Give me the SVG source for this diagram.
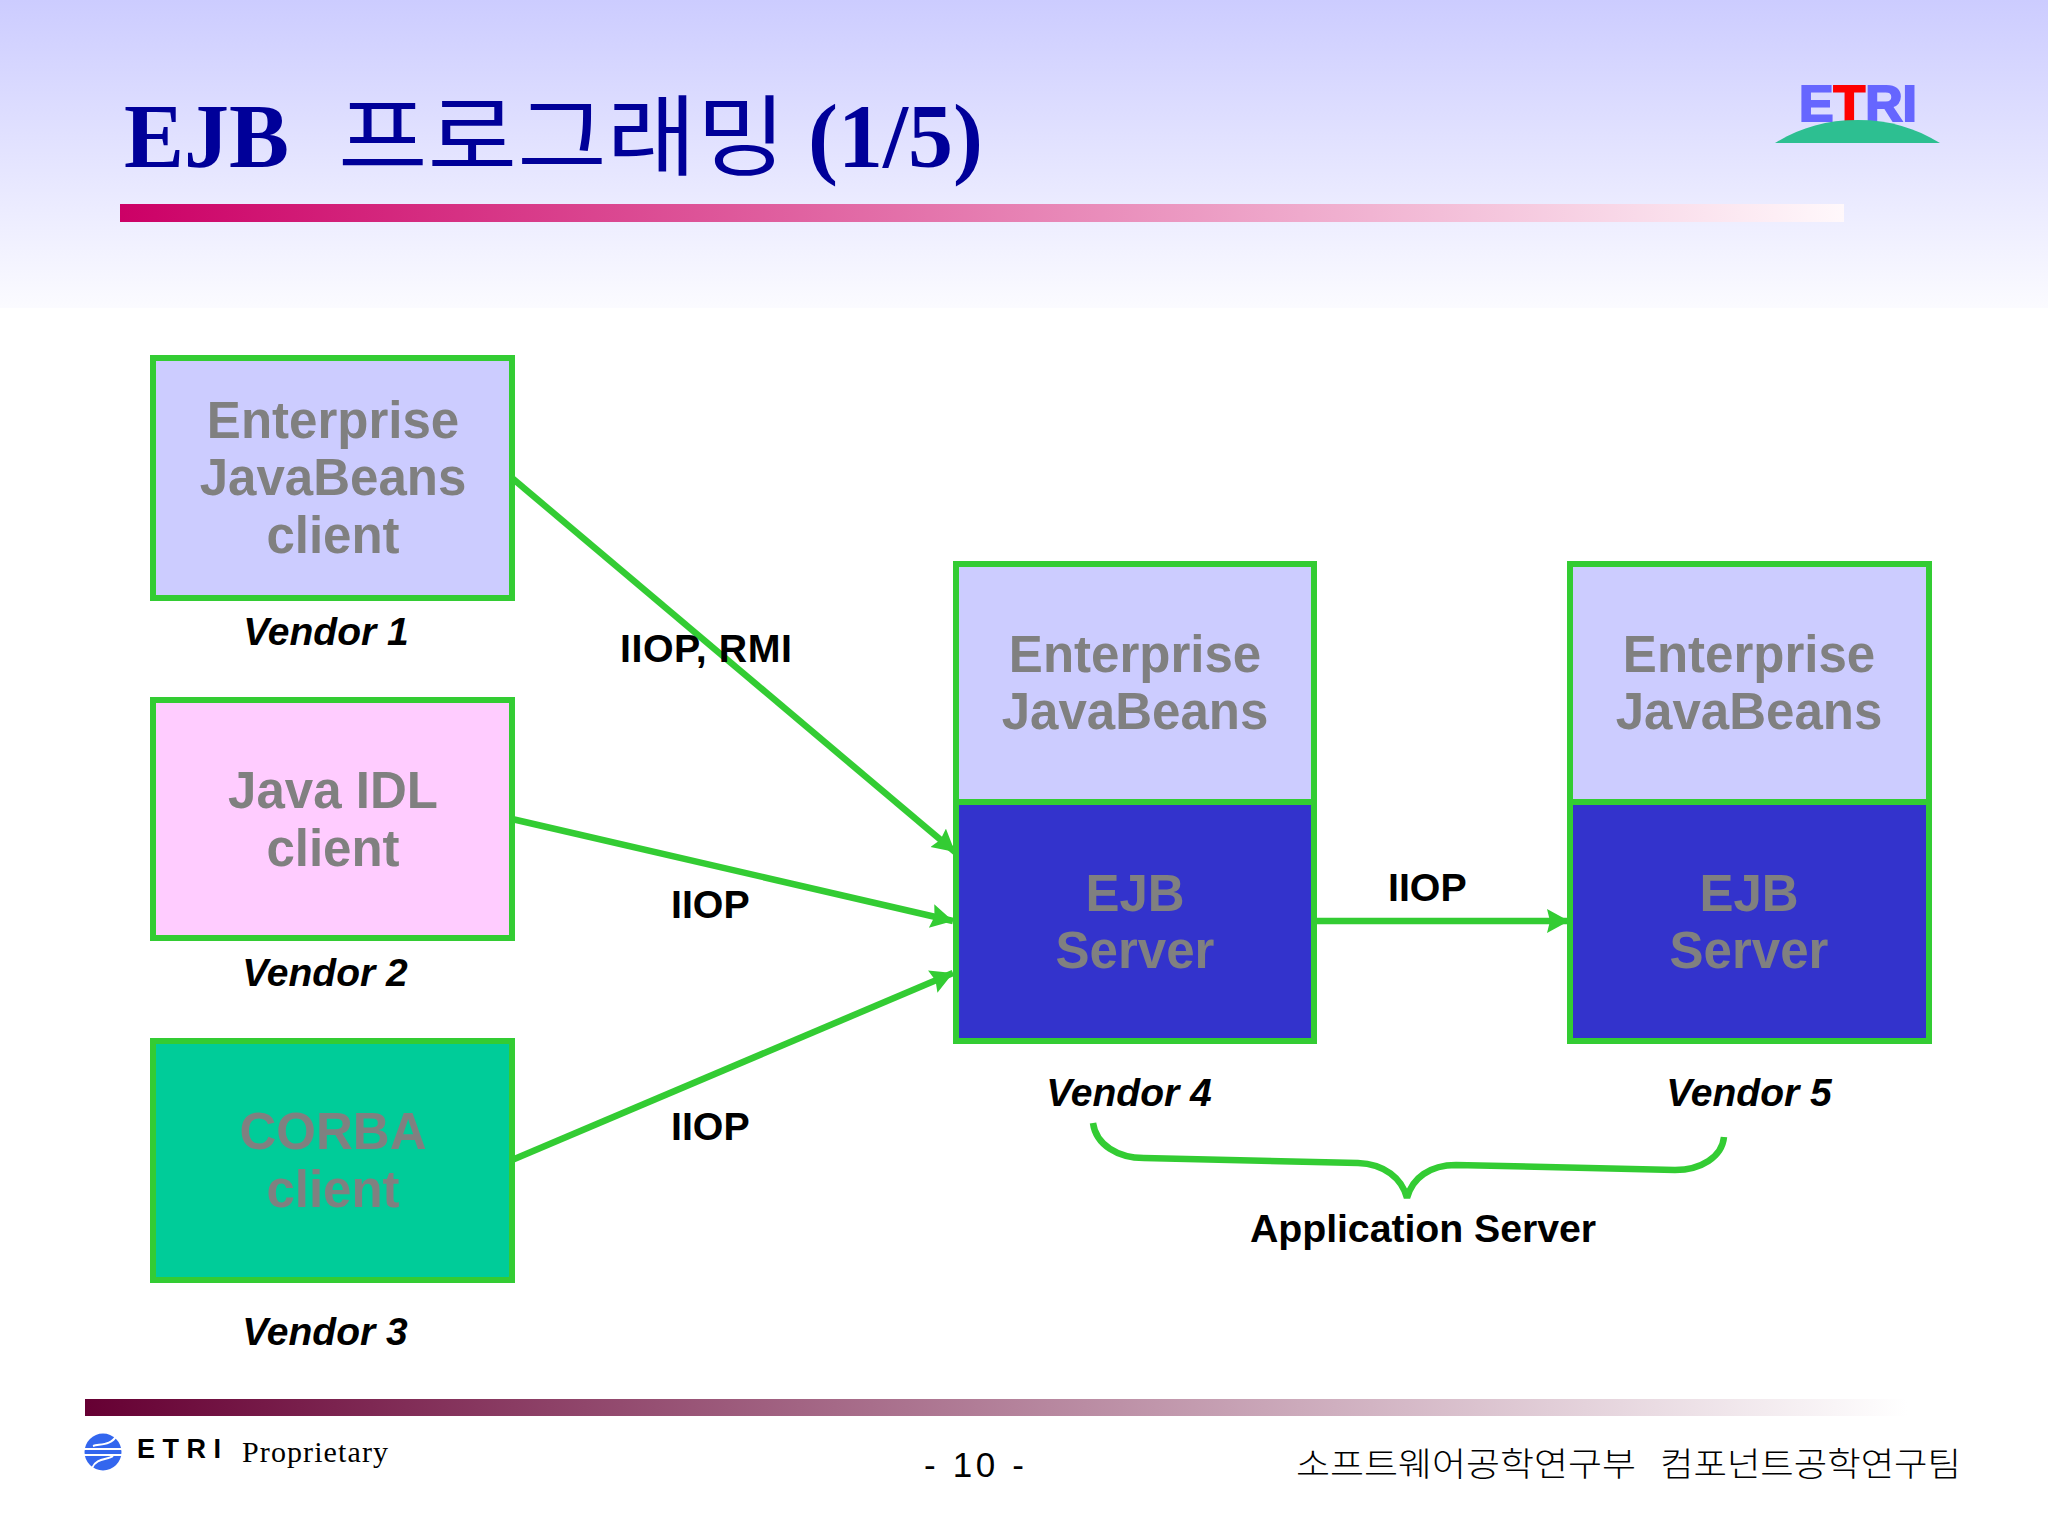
<svg xmlns="http://www.w3.org/2000/svg" width="2048" height="1536" viewBox="0 0 2048 1536">
<style>
.box{stroke:#33CC33;stroke-width:6}
.bt{font-family:"Liberation Sans",Arial,sans-serif;font-weight:700;font-size:51px;fill:#808080;text-anchor:middle}
.vn{font-family:"Liberation Sans",Arial,sans-serif;font-weight:700;font-style:italic;font-size:39px;fill:#000;text-anchor:middle}
.lb{font-family:"Liberation Sans",Arial,sans-serif;font-weight:700;font-size:39.3px;fill:#000}
.ko{font-family:"Noto Sans CJK KR","Noto Sans",sans-serif;font-weight:300}
.ti{font-family:"Liberation Serif","Times New Roman",serif;font-weight:700;font-size:90px;fill:#000099}
.cn{fill:none;stroke:#33CC33;stroke-width:6.5}
</style>
<defs>
<linearGradient id="bg" x1="0" y1="0" x2="0" y2="1"><stop offset="0" stop-color="#CCCCFF"/><stop offset="1" stop-color="#FBFBFF"/></linearGradient>
<linearGradient id="bar1" x1="0" y1="0" x2="1" y2="0"><stop offset="0" stop-color="#CC0066"/><stop offset="1" stop-color="#FFF8FB"/></linearGradient>
<linearGradient id="bar2" x1="0" y1="0" x2="1" y2="0"><stop offset="0" stop-color="#660033"/><stop offset="1" stop-color="#FFFFFF"/></linearGradient>
<marker id="ah" markerUnits="userSpaceOnUse" markerWidth="26" markerHeight="26" refX="22" refY="12" orient="auto"><path d="M0 0L22 12L0 24L3 12Z" fill="#33CC33"/></marker>
</defs>
<rect width="2048" height="1536" fill="#FFFFFF"/>
<rect width="2048" height="308" fill="url(#bg)"/>
<rect x="120" y="204" width="1724" height="18" fill="url(#bar1)"/>
<g id="title">
<text class="ti" x="124" y="167">EJB</text>
<text class="ko" x="338" y="168" font-size="88" fill="#000099" style="font-weight:400" textLength="448" lengthAdjust="spacingAndGlyphs">프로그래밍</text>
<text class="ti" x="808" y="167">(1/5)</text>
</g>
<g id="etri-logo">
<text x="1799" y="121" font-family="Liberation Sans,Arial,sans-serif" font-weight="700" font-size="50" fill="#6666FF" stroke="#6666FF" stroke-width="2" textLength="118" lengthAdjust="spacingAndGlyphs">E<tspan fill="#FF0000" stroke="#FF0000">T</tspan>RI</text>
<path d="M1775 143C1800 128 1825 120 1858 120C1890 120 1915 128 1940 143Z" fill="#2DBF91"/>
</g>
<g id="connectors">
<path class="cn" marker-end="url(#ah)" d="M512 478L955 852"/>
<path class="cn" marker-end="url(#ah)" d="M512 819L953 921"/>
<path class="cn" marker-end="url(#ah)" d="M512 1160L953 973"/>
<path class="cn" marker-end="url(#ah)" d="M1314 921L1569 921"/>
<path class="cn" d="M1093 1123C1096 1145 1118 1158 1144 1158L1358 1163C1384 1164 1402 1178 1407 1198C1412 1178 1430 1165 1456 1165L1675 1170C1701 1170 1722 1157 1724 1137"/>
</g>
<g id="client-ejb"><rect class="box" x="153" y="358" width="359" height="240" fill="#CCCCFF"/>
<text class="bt" x="333" y="438">Enterprise</text><text class="bt" x="333" y="495">JavaBeans</text><text class="bt" x="333" y="553">client</text></g>
<g id="client-idl"><rect class="box" x="153" y="700" width="359" height="238" fill="#FFCCFF"/>
<text class="bt" x="333" y="808">Java IDL</text><text class="bt" x="333" y="866">client</text></g>
<g id="client-corba"><rect class="box" x="153" y="1041" width="359" height="239" fill="#00CC99"/>
<text class="bt" x="333" y="1149">CORBA</text><text class="bt" x="333" y="1207">client</text></g>
<g id="beans-4"><rect class="box" x="956" y="564" width="358" height="238" fill="#CCCCFF"/>
<text class="bt" x="1135" y="672">Enterprise</text><text class="bt" x="1135" y="729">JavaBeans</text></g>
<g id="server-4"><rect class="box" x="956" y="802" width="358" height="239" fill="#3333CC"/>
<text class="bt" x="1135" y="911">EJB</text><text class="bt" x="1135" y="968">Server</text></g>
<g id="beans-5"><rect class="box" x="1570" y="564" width="359" height="238" fill="#CCCCFF"/>
<text class="bt" x="1749" y="672">Enterprise</text><text class="bt" x="1749" y="729">JavaBeans</text></g>
<g id="server-5"><rect class="box" x="1570" y="802" width="359" height="239" fill="#3333CC"/>
<text class="bt" x="1749" y="911">EJB</text><text class="bt" x="1749" y="968">Server</text></g>
<g id="labels">
<text class="vn" x="326" y="645">Vendor 1</text>
<text class="vn" x="325" y="986">Vendor 2</text>
<text class="vn" x="325" y="1345">Vendor 3</text>
<text class="vn" x="1129" y="1106">Vendor 4</text>
<text class="vn" x="1749" y="1106">Vendor 5</text>
<text class="lb" x="620" y="662" textLength="172">IIOP, RMI</text>
<text class="lb" x="671" y="918">IIOP</text>
<text class="lb" x="671" y="1140">IIOP</text>
<text class="lb" x="1388" y="901">IIOP</text>
<text class="lb" x="1250" y="1242" textLength="346">Application Server</text>
</g>
<rect x="85" y="1399" width="1822" height="17" fill="url(#bar2)"/>
<g id="footer">
<circle cx="103" cy="1452" r="18.5" fill="#3366EE"/>
<path d="M84 1449H122M84 1455H122M92 1468C96 1458 108 1460 113 1456M93 1446C100 1444 112 1445 116 1436" fill="none" stroke="#FFFFFF" stroke-width="2"/>
<text x="137" y="1458" font-family="Liberation Sans,Arial,sans-serif" font-weight="700" font-size="27" fill="#000" textLength="84">E T R I</text>
<text x="242" y="1462" font-family="Liberation Serif,serif" font-size="30" fill="#000" textLength="146">Proprietary</text>
<text x="924" y="1477" font-family="Liberation Sans,sans-serif" font-size="35" fill="#000" textLength="100">- 10 -</text>
<text class="ko" x="1296" y="1476" font-size="33" fill="#000" textLength="340" lengthAdjust="spacingAndGlyphs">소프트웨어공학연구부</text>
<text class="ko" x="1660" y="1476" font-size="33" fill="#000" textLength="301" lengthAdjust="spacingAndGlyphs">컴포넌트공학연구팀</text>
</g>
</svg>
